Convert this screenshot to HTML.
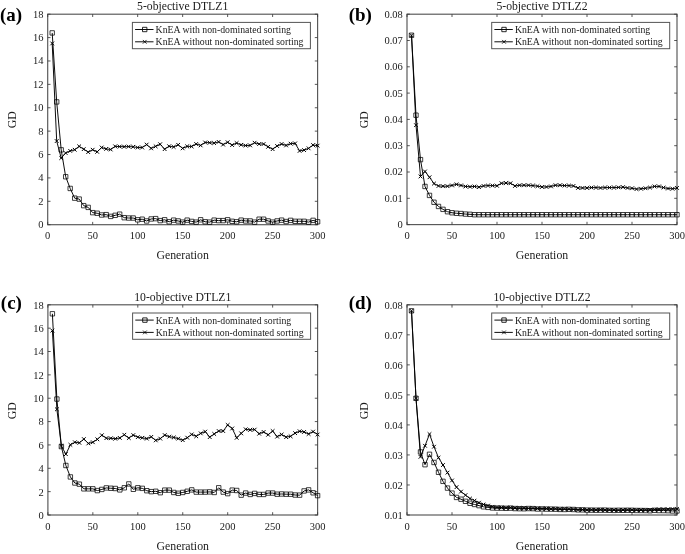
<!DOCTYPE html>
<html><head><meta charset="utf-8"><title>GD convergence</title>
<style>
html,body{margin:0;padding:0;background:#fff}
svg{display:block;font-family:"Liberation Serif","DejaVu Serif",serif;fill:#1a1a1a}
.tk{font-size:10.5px}
.ti{font-size:11.7px}
.lb{font-size:11.8px}
.lg{font-size:9.78px}
.pl{font-size:19px;font-weight:bold;fill:#000}
</style></head><body>
<svg width="685" height="554" viewBox="0 0 685 554">
<rect width="685" height="554" fill="#fff"/>
<rect x="47.7" y="14.2" width="269.90" height="210.50" fill="none" stroke="#555" stroke-width="1.15"/>
<text class="tk" x="47.70" y="238.80" text-anchor="middle">0</text>
<text class="tk" x="92.68" y="238.80" text-anchor="middle">50</text>
<text class="tk" x="137.67" y="238.80" text-anchor="middle">100</text>
<text class="tk" x="182.65" y="238.80" text-anchor="middle">150</text>
<text class="tk" x="227.63" y="238.80" text-anchor="middle">200</text>
<text class="tk" x="272.62" y="238.80" text-anchor="middle">250</text>
<text class="tk" x="317.60" y="238.80" text-anchor="middle">300</text>
<text class="tk" x="43.50" y="228.15" text-anchor="end">0</text>
<text class="tk" x="43.50" y="204.76" text-anchor="end">2</text>
<text class="tk" x="43.50" y="181.37" text-anchor="end">4</text>
<text class="tk" x="43.50" y="157.98" text-anchor="end">6</text>
<text class="tk" x="43.50" y="134.59" text-anchor="end">8</text>
<text class="tk" x="43.50" y="111.21" text-anchor="end">10</text>
<text class="tk" x="43.50" y="87.82" text-anchor="end">12</text>
<text class="tk" x="43.50" y="64.43" text-anchor="end">14</text>
<text class="tk" x="43.50" y="41.04" text-anchor="end">16</text>
<text class="tk" x="43.50" y="17.65" text-anchor="end">18</text>
<path d="M47.70 224.7v-2.8M47.70 14.2v2.8M92.68 224.7v-2.8M92.68 14.2v2.8M137.67 224.7v-2.8M137.67 14.2v2.8M182.65 224.7v-2.8M182.65 14.2v2.8M227.63 224.7v-2.8M227.63 14.2v2.8M272.62 224.7v-2.8M272.62 14.2v2.8M317.60 224.7v-2.8M317.60 14.2v2.8M47.7 224.70h2.8M317.6 224.70h-2.8M47.7 201.31h2.8M317.6 201.31h-2.8M47.7 177.92h2.8M317.6 177.92h-2.8M47.7 154.53h2.8M317.6 154.53h-2.8M47.7 131.14h2.8M317.6 131.14h-2.8M47.7 107.76h2.8M317.6 107.76h-2.8M47.7 84.37h2.8M317.6 84.37h-2.8M47.7 60.98h2.8M317.6 60.98h-2.8M47.7 37.59h2.8M317.6 37.59h-2.8M47.7 14.20h2.8M317.6 14.20h-2.8" stroke="#3a3a3a" stroke-width="0.85" fill="none"/>
<text class="ti" x="182.65" y="10.00" text-anchor="middle">5-objective DTLZ1</text>
<text class="lb" x="182.65" y="259.40" text-anchor="middle">Generation</text>
<text class="lb" transform="translate(15.90 119.85) rotate(-90)" text-anchor="middle">GD</text>
<text class="pl" x="0.00" y="21.00">(a)</text>
<polyline points="52.20,32.91 56.70,101.91 61.20,149.86 65.69,176.75 70.19,188.45 74.69,198.15 79.19,199.09 83.69,205.64 88.19,207.39 92.68,212.65 97.18,213.24 101.68,214.99 106.18,214.64 110.68,216.40 115.18,215.34 119.67,214.17 124.17,217.68 128.67,218.03 133.17,218.03 137.67,219.79 142.17,219.20 146.66,220.96 151.16,218.97 155.66,218.62 160.16,220.61 164.66,219.79 169.16,221.78 173.65,220.14 178.15,220.96 182.65,222.13 187.15,220.14 191.65,221.43 196.15,222.13 200.64,219.79 205.14,221.78 209.64,222.13 214.14,220.14 218.64,220.61 223.13,220.61 227.63,219.79 232.13,221.31 236.63,221.78 241.13,220.14 245.63,220.96 250.12,220.96 254.62,222.13 259.12,219.20 263.62,219.20 268.12,220.96 272.62,222.13 277.12,220.96 281.61,220.14 286.11,221.54 290.61,220.37 295.11,221.31 299.61,221.31 304.11,221.31 308.60,222.13 313.10,220.37 317.60,221.78" fill="none" stroke="#000" stroke-width="0.95" stroke-linejoin="round"/>
<path d="M50.00 30.71h4.4v4.4h-4.4zM54.50 99.71h4.4v4.4h-4.4zM59.00 147.66h4.4v4.4h-4.4zM63.49 174.55h4.4v4.4h-4.4zM67.99 186.25h4.4v4.4h-4.4zM72.49 195.95h4.4v4.4h-4.4zM76.99 196.89h4.4v4.4h-4.4zM81.49 203.44h4.4v4.4h-4.4zM85.98 205.19h4.4v4.4h-4.4zM90.48 210.45h4.4v4.4h-4.4zM94.98 211.04h4.4v4.4h-4.4zM99.48 212.79h4.4v4.4h-4.4zM103.98 212.44h4.4v4.4h-4.4zM108.48 214.20h4.4v4.4h-4.4zM112.98 213.14h4.4v4.4h-4.4zM117.47 211.97h4.4v4.4h-4.4zM121.97 215.48h4.4v4.4h-4.4zM126.47 215.83h4.4v4.4h-4.4zM130.97 215.83h4.4v4.4h-4.4zM135.47 217.59h4.4v4.4h-4.4zM139.97 217.00h4.4v4.4h-4.4zM144.46 218.76h4.4v4.4h-4.4zM148.96 216.77h4.4v4.4h-4.4zM153.46 216.42h4.4v4.4h-4.4zM157.96 218.41h4.4v4.4h-4.4zM162.46 217.59h4.4v4.4h-4.4zM166.96 219.58h4.4v4.4h-4.4zM171.45 217.94h4.4v4.4h-4.4zM175.95 218.76h4.4v4.4h-4.4zM180.45 219.93h4.4v4.4h-4.4zM184.95 217.94h4.4v4.4h-4.4zM189.45 219.23h4.4v4.4h-4.4zM193.95 219.93h4.4v4.4h-4.4zM198.44 217.59h4.4v4.4h-4.4zM202.94 219.58h4.4v4.4h-4.4zM207.44 219.93h4.4v4.4h-4.4zM211.94 217.94h4.4v4.4h-4.4zM216.44 218.41h4.4v4.4h-4.4zM220.94 218.41h4.4v4.4h-4.4zM225.43 217.59h4.4v4.4h-4.4zM229.93 219.11h4.4v4.4h-4.4zM234.43 219.58h4.4v4.4h-4.4zM238.93 217.94h4.4v4.4h-4.4zM243.43 218.76h4.4v4.4h-4.4zM247.93 218.76h4.4v4.4h-4.4zM252.42 219.93h4.4v4.4h-4.4zM256.92 217.00h4.4v4.4h-4.4zM261.42 217.00h4.4v4.4h-4.4zM265.92 218.76h4.4v4.4h-4.4zM270.42 219.93h4.4v4.4h-4.4zM274.92 218.76h4.4v4.4h-4.4zM279.41 217.94h4.4v4.4h-4.4zM283.91 219.34h4.4v4.4h-4.4zM288.41 218.17h4.4v4.4h-4.4zM292.91 219.11h4.4v4.4h-4.4zM297.41 219.11h4.4v4.4h-4.4zM301.91 219.11h4.4v4.4h-4.4zM306.40 219.93h4.4v4.4h-4.4zM310.90 218.17h4.4v4.4h-4.4zM315.40 219.58h4.4v4.4h-4.4z" fill="none" stroke="#000" stroke-width="0.75"/>
<polyline points="52.20,43.44 56.70,141.08 61.20,158.04 65.69,153.01 70.19,150.91 74.69,149.74 79.19,146.35 83.69,149.15 88.19,152.08 92.68,149.74 97.18,151.84 101.68,147.52 106.18,148.92 110.68,149.50 115.18,146.35 119.67,146.58 124.17,146.70 128.67,146.58 133.17,146.81 137.67,147.52 142.17,147.52 146.66,144.59 151.16,148.34 155.66,146.35 160.16,144.24 164.66,149.15 169.16,146.23 173.65,146.93 178.15,144.83 182.65,148.34 187.15,146.35 191.65,146.46 196.15,144.01 200.64,145.41 205.14,142.49 209.64,142.72 214.14,143.07 218.64,141.90 223.13,144.59 227.63,142.25 232.13,145.06 236.63,143.07 241.13,144.83 245.63,145.53 250.12,145.41 254.62,142.72 259.12,144.01 263.62,144.01 268.12,146.81 272.62,149.15 277.12,146.00 281.61,144.01 286.11,145.41 290.61,143.66 295.11,143.42 299.61,150.91 304.11,150.09 308.60,148.34 313.10,145.06 317.60,145.65" fill="none" stroke="#000" stroke-width="0.95" stroke-linejoin="round"/>
<path d="M50.35 41.59l3.7 3.7M50.35 45.29l3.7 -3.7M54.85 139.23l3.7 3.7M54.85 142.93l3.7 -3.7M59.35 156.19l3.7 3.7M59.35 159.89l3.7 -3.7M63.84 151.16l3.7 3.7M63.84 154.86l3.7 -3.7M68.34 149.06l3.7 3.7M68.34 152.76l3.7 -3.7M72.84 147.89l3.7 3.7M72.84 151.59l3.7 -3.7M77.34 144.50l3.7 3.7M77.34 148.20l3.7 -3.7M81.84 147.30l3.7 3.7M81.84 151.00l3.7 -3.7M86.34 150.23l3.7 3.7M86.34 153.93l3.7 -3.7M90.83 147.89l3.7 3.7M90.83 151.59l3.7 -3.7M95.33 149.99l3.7 3.7M95.33 153.69l3.7 -3.7M99.83 145.67l3.7 3.7M99.83 149.37l3.7 -3.7M104.33 147.07l3.7 3.7M104.33 150.77l3.7 -3.7M108.83 147.65l3.7 3.7M108.83 151.35l3.7 -3.7M113.33 144.50l3.7 3.7M113.33 148.20l3.7 -3.7M117.82 144.73l3.7 3.7M117.82 148.43l3.7 -3.7M122.32 144.85l3.7 3.7M122.32 148.55l3.7 -3.7M126.82 144.73l3.7 3.7M126.82 148.43l3.7 -3.7M131.32 144.97l3.7 3.7M131.32 148.66l3.7 -3.7M135.82 145.67l3.7 3.7M135.82 149.37l3.7 -3.7M140.32 145.67l3.7 3.7M140.32 149.37l3.7 -3.7M144.81 142.74l3.7 3.7M144.81 146.44l3.7 -3.7M149.31 146.49l3.7 3.7M149.31 150.19l3.7 -3.7M153.81 144.50l3.7 3.7M153.81 148.20l3.7 -3.7M158.31 142.39l3.7 3.7M158.31 146.09l3.7 -3.7M162.81 147.30l3.7 3.7M162.81 151.00l3.7 -3.7M167.31 144.38l3.7 3.7M167.31 148.08l3.7 -3.7M171.80 145.08l3.7 3.7M171.80 148.78l3.7 -3.7M176.30 142.98l3.7 3.7M176.30 146.68l3.7 -3.7M180.80 146.49l3.7 3.7M180.80 150.19l3.7 -3.7M185.30 144.50l3.7 3.7M185.30 148.20l3.7 -3.7M189.80 144.61l3.7 3.7M189.80 148.31l3.7 -3.7M194.30 142.16l3.7 3.7M194.30 145.86l3.7 -3.7M198.79 143.56l3.7 3.7M198.79 147.26l3.7 -3.7M203.29 140.64l3.7 3.7M203.29 144.34l3.7 -3.7M207.79 140.87l3.7 3.7M207.79 144.57l3.7 -3.7M212.29 141.22l3.7 3.7M212.29 144.92l3.7 -3.7M216.79 140.05l3.7 3.7M216.79 143.75l3.7 -3.7M221.28 142.74l3.7 3.7M221.28 146.44l3.7 -3.7M225.78 140.40l3.7 3.7M225.78 144.10l3.7 -3.7M230.28 143.21l3.7 3.7M230.28 146.91l3.7 -3.7M234.78 141.22l3.7 3.7M234.78 144.92l3.7 -3.7M239.28 142.98l3.7 3.7M239.28 146.68l3.7 -3.7M243.78 143.68l3.7 3.7M243.78 147.38l3.7 -3.7M248.28 143.56l3.7 3.7M248.28 147.26l3.7 -3.7M252.77 140.87l3.7 3.7M252.77 144.57l3.7 -3.7M257.27 142.16l3.7 3.7M257.27 145.86l3.7 -3.7M261.77 142.16l3.7 3.7M261.77 145.86l3.7 -3.7M266.27 144.97l3.7 3.7M266.27 148.66l3.7 -3.7M270.77 147.30l3.7 3.7M270.77 151.00l3.7 -3.7M275.26 144.15l3.7 3.7M275.26 147.85l3.7 -3.7M279.76 142.16l3.7 3.7M279.76 145.86l3.7 -3.7M284.26 143.56l3.7 3.7M284.26 147.26l3.7 -3.7M288.76 141.81l3.7 3.7M288.76 145.51l3.7 -3.7M293.26 141.57l3.7 3.7M293.26 145.27l3.7 -3.7M297.76 149.06l3.7 3.7M297.76 152.76l3.7 -3.7M302.25 148.24l3.7 3.7M302.25 151.94l3.7 -3.7M306.75 146.49l3.7 3.7M306.75 150.19l3.7 -3.7M311.25 143.21l3.7 3.7M311.25 146.91l3.7 -3.7M315.75 143.80l3.7 3.7M315.75 147.50l3.7 -3.7" fill="none" stroke="#000" stroke-width="1.0"/>
<rect x="132.40" y="22.40" width="178.00" height="26.30" fill="#fff" stroke="#555" stroke-width="1"/>
<path d="M135.10 29.50H153.50M135.10 41.80H153.50" stroke="#000" stroke-width="0.95"/>
<path d="M142.50 27.30h4.4v4.4h-4.4zM142.85 39.95l3.7 3.7M142.85 43.65l3.7 -3.7" fill="none" stroke="#000" stroke-width="0.85"/>
<text class="lg" x="155.60" y="32.95">KnEA with non-dominated sorting</text>
<text class="lg" x="155.60" y="45.20">KnEA without non-dominated sorting</text>
<rect x="407.0" y="14.2" width="270.00" height="210.40" fill="none" stroke="#555" stroke-width="1.15"/>
<text class="tk" x="407.00" y="238.70" text-anchor="middle">0</text>
<text class="tk" x="452.00" y="238.70" text-anchor="middle">50</text>
<text class="tk" x="497.00" y="238.70" text-anchor="middle">100</text>
<text class="tk" x="542.00" y="238.70" text-anchor="middle">150</text>
<text class="tk" x="587.00" y="238.70" text-anchor="middle">200</text>
<text class="tk" x="632.00" y="238.70" text-anchor="middle">250</text>
<text class="tk" x="677.00" y="238.70" text-anchor="middle">300</text>
<text class="tk" x="402.80" y="228.05" text-anchor="end">0</text>
<text class="tk" x="402.80" y="201.75" text-anchor="end">0.01</text>
<text class="tk" x="402.80" y="175.45" text-anchor="end">0.02</text>
<text class="tk" x="402.80" y="149.15" text-anchor="end">0.03</text>
<text class="tk" x="402.80" y="122.85" text-anchor="end">0.04</text>
<text class="tk" x="402.80" y="96.55" text-anchor="end">0.05</text>
<text class="tk" x="402.80" y="70.25" text-anchor="end">0.06</text>
<text class="tk" x="402.80" y="43.95" text-anchor="end">0.07</text>
<text class="tk" x="402.80" y="17.65" text-anchor="end">0.08</text>
<path d="M407.00 224.6v-2.8M407.00 14.2v2.8M452.00 224.6v-2.8M452.00 14.2v2.8M497.00 224.6v-2.8M497.00 14.2v2.8M542.00 224.6v-2.8M542.00 14.2v2.8M587.00 224.6v-2.8M587.00 14.2v2.8M632.00 224.6v-2.8M632.00 14.2v2.8M677.00 224.6v-2.8M677.00 14.2v2.8M407.0 224.60h2.8M677.0 224.60h-2.8M407.0 198.30h2.8M677.0 198.30h-2.8M407.0 172.00h2.8M677.0 172.00h-2.8M407.0 145.70h2.8M677.0 145.70h-2.8M407.0 119.40h2.8M677.0 119.40h-2.8M407.0 93.10h2.8M677.0 93.10h-2.8M407.0 66.80h2.8M677.0 66.80h-2.8M407.0 40.50h2.8M677.0 40.50h-2.8M407.0 14.20h2.8M677.0 14.20h-2.8" stroke="#3a3a3a" stroke-width="0.85" fill="none"/>
<text class="ti" x="542.00" y="10.00" text-anchor="middle">5-objective DTLZ2</text>
<text class="lb" x="542.00" y="259.30" text-anchor="middle">Generation</text>
<text class="lb" transform="translate(368.20 119.80) rotate(-90)" text-anchor="middle">GD</text>
<text class="pl" x="348.70" y="21.00">(b)</text>
<polyline points="411.50,35.24 416.00,115.19 420.50,159.64 425.00,186.46 429.50,195.41 434.00,202.25 438.50,206.45 443.00,209.35 447.50,211.71 452.00,212.76 456.50,213.29 461.00,213.55 465.50,214.08 470.00,214.34 474.50,214.71 479.00,214.71 483.50,214.71 488.00,214.71 492.50,214.71 497.00,214.71 501.50,214.71 506.00,214.71 510.50,214.71 515.00,214.71 519.50,214.71 524.00,214.71 528.50,214.71 533.00,214.71 537.50,214.71 542.00,214.71 546.50,214.71 551.00,214.71 555.50,214.71 560.00,214.71 564.50,214.71 569.00,214.71 573.50,214.71 578.00,214.71 582.50,214.71 587.00,214.71 591.50,214.71 596.00,214.71 600.50,214.71 605.00,214.71 609.50,214.71 614.00,214.71 618.50,214.71 623.00,214.71 627.50,214.71 632.00,214.71 636.50,214.71 641.00,214.71 645.50,214.71 650.00,214.71 654.50,214.71 659.00,214.71 663.50,214.71 668.00,214.71 672.50,214.71 677.00,214.71" fill="none" stroke="#000" stroke-width="0.95" stroke-linejoin="round"/>
<path d="M409.30 33.04h4.4v4.4h-4.4zM413.80 112.99h4.4v4.4h-4.4zM418.30 157.44h4.4v4.4h-4.4zM422.80 184.26h4.4v4.4h-4.4zM427.30 193.21h4.4v4.4h-4.4zM431.80 200.05h4.4v4.4h-4.4zM436.30 204.25h4.4v4.4h-4.4zM440.80 207.15h4.4v4.4h-4.4zM445.30 209.51h4.4v4.4h-4.4zM449.80 210.56h4.4v4.4h-4.4zM454.30 211.09h4.4v4.4h-4.4zM458.80 211.35h4.4v4.4h-4.4zM463.30 211.88h4.4v4.4h-4.4zM467.80 212.14h4.4v4.4h-4.4zM472.30 212.51h4.4v4.4h-4.4zM476.80 212.51h4.4v4.4h-4.4zM481.30 212.51h4.4v4.4h-4.4zM485.80 212.51h4.4v4.4h-4.4zM490.30 212.51h4.4v4.4h-4.4zM494.80 212.51h4.4v4.4h-4.4zM499.30 212.51h4.4v4.4h-4.4zM503.80 212.51h4.4v4.4h-4.4zM508.30 212.51h4.4v4.4h-4.4zM512.80 212.51h4.4v4.4h-4.4zM517.30 212.51h4.4v4.4h-4.4zM521.80 212.51h4.4v4.4h-4.4zM526.30 212.51h4.4v4.4h-4.4zM530.80 212.51h4.4v4.4h-4.4zM535.30 212.51h4.4v4.4h-4.4zM539.80 212.51h4.4v4.4h-4.4zM544.30 212.51h4.4v4.4h-4.4zM548.80 212.51h4.4v4.4h-4.4zM553.30 212.51h4.4v4.4h-4.4zM557.80 212.51h4.4v4.4h-4.4zM562.30 212.51h4.4v4.4h-4.4zM566.80 212.51h4.4v4.4h-4.4zM571.30 212.51h4.4v4.4h-4.4zM575.80 212.51h4.4v4.4h-4.4zM580.30 212.51h4.4v4.4h-4.4zM584.80 212.51h4.4v4.4h-4.4zM589.30 212.51h4.4v4.4h-4.4zM593.80 212.51h4.4v4.4h-4.4zM598.30 212.51h4.4v4.4h-4.4zM602.80 212.51h4.4v4.4h-4.4zM607.30 212.51h4.4v4.4h-4.4zM611.80 212.51h4.4v4.4h-4.4zM616.30 212.51h4.4v4.4h-4.4zM620.80 212.51h4.4v4.4h-4.4zM625.30 212.51h4.4v4.4h-4.4zM629.80 212.51h4.4v4.4h-4.4zM634.30 212.51h4.4v4.4h-4.4zM638.80 212.51h4.4v4.4h-4.4zM643.30 212.51h4.4v4.4h-4.4zM647.80 212.51h4.4v4.4h-4.4zM652.30 212.51h4.4v4.4h-4.4zM656.80 212.51h4.4v4.4h-4.4zM661.30 212.51h4.4v4.4h-4.4zM665.80 212.51h4.4v4.4h-4.4zM670.30 212.51h4.4v4.4h-4.4zM674.80 212.51h4.4v4.4h-4.4z" fill="none" stroke="#000" stroke-width="0.75"/>
<polyline points="411.50,35.24 416.00,125.19 420.50,176.47 425.00,171.47 429.50,177.26 434.00,183.57 438.50,185.94 443.00,186.20 447.50,186.20 452.00,185.41 456.50,184.36 461.00,185.41 465.50,186.46 470.00,186.73 474.50,186.46 479.00,187.12 483.50,185.94 488.00,185.60 492.50,185.60 497.00,185.81 501.50,183.26 506.00,183.02 510.50,183.26 515.00,185.94 519.50,185.23 524.00,185.23 528.50,185.23 533.00,185.60 537.50,186.18 542.00,186.94 546.50,186.94 551.00,186.41 555.50,185.23 560.00,185.23 564.50,185.60 569.00,185.60 573.50,185.94 578.00,187.94 582.50,187.94 587.00,187.94 591.50,187.57 596.00,187.57 600.50,187.94 605.00,187.57 609.50,187.57 614.00,187.57 618.50,187.36 623.00,187.12 627.50,187.94 632.00,188.28 636.50,189.09 641.00,188.75 645.50,188.28 650.00,187.57 654.50,186.41 659.00,186.41 663.50,187.57 668.00,188.52 672.50,188.75 677.00,187.94" fill="none" stroke="#000" stroke-width="0.95" stroke-linejoin="round"/>
<path d="M409.65 33.39l3.7 3.7M409.65 37.09l3.7 -3.7M414.15 123.34l3.7 3.7M414.15 127.04l3.7 -3.7M418.65 174.62l3.7 3.7M418.65 178.32l3.7 -3.7M423.15 169.62l3.7 3.7M423.15 173.32l3.7 -3.7M427.65 175.41l3.7 3.7M427.65 179.11l3.7 -3.7M432.15 181.72l3.7 3.7M432.15 185.42l3.7 -3.7M436.65 184.09l3.7 3.7M436.65 187.79l3.7 -3.7M441.15 184.35l3.7 3.7M441.15 188.05l3.7 -3.7M445.65 184.35l3.7 3.7M445.65 188.05l3.7 -3.7M450.15 183.56l3.7 3.7M450.15 187.26l3.7 -3.7M454.65 182.51l3.7 3.7M454.65 186.21l3.7 -3.7M459.15 183.56l3.7 3.7M459.15 187.26l3.7 -3.7M463.65 184.61l3.7 3.7M463.65 188.31l3.7 -3.7M468.15 184.88l3.7 3.7M468.15 188.58l3.7 -3.7M472.65 184.61l3.7 3.7M472.65 188.31l3.7 -3.7M477.15 185.27l3.7 3.7M477.15 188.97l3.7 -3.7M481.65 184.09l3.7 3.7M481.65 187.79l3.7 -3.7M486.15 183.75l3.7 3.7M486.15 187.45l3.7 -3.7M490.65 183.75l3.7 3.7M490.65 187.45l3.7 -3.7M495.15 183.96l3.7 3.7M495.15 187.66l3.7 -3.7M499.65 181.41l3.7 3.7M499.65 185.11l3.7 -3.7M504.15 181.17l3.7 3.7M504.15 184.87l3.7 -3.7M508.65 181.41l3.7 3.7M508.65 185.11l3.7 -3.7M513.15 184.09l3.7 3.7M513.15 187.79l3.7 -3.7M517.65 183.38l3.7 3.7M517.65 187.08l3.7 -3.7M522.15 183.38l3.7 3.7M522.15 187.08l3.7 -3.7M526.65 183.38l3.7 3.7M526.65 187.08l3.7 -3.7M531.15 183.75l3.7 3.7M531.15 187.45l3.7 -3.7M535.65 184.33l3.7 3.7M535.65 188.03l3.7 -3.7M540.15 185.09l3.7 3.7M540.15 188.79l3.7 -3.7M544.65 185.09l3.7 3.7M544.65 188.79l3.7 -3.7M549.15 184.56l3.7 3.7M549.15 188.26l3.7 -3.7M553.65 183.38l3.7 3.7M553.65 187.08l3.7 -3.7M558.15 183.38l3.7 3.7M558.15 187.08l3.7 -3.7M562.65 183.75l3.7 3.7M562.65 187.45l3.7 -3.7M567.15 183.75l3.7 3.7M567.15 187.45l3.7 -3.7M571.65 184.09l3.7 3.7M571.65 187.79l3.7 -3.7M576.15 186.09l3.7 3.7M576.15 189.79l3.7 -3.7M580.65 186.09l3.7 3.7M580.65 189.79l3.7 -3.7M585.15 186.09l3.7 3.7M585.15 189.79l3.7 -3.7M589.65 185.72l3.7 3.7M589.65 189.42l3.7 -3.7M594.15 185.72l3.7 3.7M594.15 189.42l3.7 -3.7M598.65 186.09l3.7 3.7M598.65 189.79l3.7 -3.7M603.15 185.72l3.7 3.7M603.15 189.42l3.7 -3.7M607.65 185.72l3.7 3.7M607.65 189.42l3.7 -3.7M612.15 185.72l3.7 3.7M612.15 189.42l3.7 -3.7M616.65 185.51l3.7 3.7M616.65 189.21l3.7 -3.7M621.15 185.27l3.7 3.7M621.15 188.97l3.7 -3.7M625.65 186.09l3.7 3.7M625.65 189.79l3.7 -3.7M630.15 186.43l3.7 3.7M630.15 190.13l3.7 -3.7M634.65 187.25l3.7 3.7M634.65 190.94l3.7 -3.7M639.15 186.90l3.7 3.7M639.15 190.60l3.7 -3.7M643.65 186.43l3.7 3.7M643.65 190.13l3.7 -3.7M648.15 185.72l3.7 3.7M648.15 189.42l3.7 -3.7M652.65 184.56l3.7 3.7M652.65 188.26l3.7 -3.7M657.15 184.56l3.7 3.7M657.15 188.26l3.7 -3.7M661.65 185.72l3.7 3.7M661.65 189.42l3.7 -3.7M666.15 186.67l3.7 3.7M666.15 190.37l3.7 -3.7M670.65 186.90l3.7 3.7M670.65 190.60l3.7 -3.7M675.15 186.09l3.7 3.7M675.15 189.79l3.7 -3.7" fill="none" stroke="#000" stroke-width="1.0"/>
<rect x="491.70" y="22.40" width="178.00" height="26.30" fill="#fff" stroke="#555" stroke-width="1"/>
<path d="M494.40 29.50H512.80M494.40 41.80H512.80" stroke="#000" stroke-width="0.95"/>
<path d="M501.80 27.30h4.4v4.4h-4.4zM502.15 39.95l3.7 3.7M502.15 43.65l3.7 -3.7" fill="none" stroke="#000" stroke-width="0.85"/>
<text class="lg" x="514.90" y="32.95">KnEA with non-dominated sorting</text>
<text class="lg" x="514.90" y="45.20">KnEA without non-dominated sorting</text>
<rect x="47.9" y="304.8" width="269.70" height="210.20" fill="none" stroke="#555" stroke-width="1.15"/>
<text class="tk" x="47.90" y="529.55" text-anchor="middle">0</text>
<text class="tk" x="92.85" y="529.55" text-anchor="middle">50</text>
<text class="tk" x="137.80" y="529.55" text-anchor="middle">100</text>
<text class="tk" x="182.75" y="529.55" text-anchor="middle">150</text>
<text class="tk" x="227.70" y="529.55" text-anchor="middle">200</text>
<text class="tk" x="272.65" y="529.55" text-anchor="middle">250</text>
<text class="tk" x="317.60" y="529.55" text-anchor="middle">300</text>
<text class="tk" x="43.70" y="518.90" text-anchor="end">0</text>
<text class="tk" x="43.70" y="495.54" text-anchor="end">2</text>
<text class="tk" x="43.70" y="472.19" text-anchor="end">4</text>
<text class="tk" x="43.70" y="448.83" text-anchor="end">6</text>
<text class="tk" x="43.70" y="425.48" text-anchor="end">8</text>
<text class="tk" x="43.70" y="402.12" text-anchor="end">10</text>
<text class="tk" x="43.70" y="378.77" text-anchor="end">12</text>
<text class="tk" x="43.70" y="355.41" text-anchor="end">14</text>
<text class="tk" x="43.70" y="332.06" text-anchor="end">16</text>
<text class="tk" x="43.70" y="308.70" text-anchor="end">18</text>
<path d="M47.90 515.0v-2.8M47.90 304.8v2.8M92.85 515.0v-2.8M92.85 304.8v2.8M137.80 515.0v-2.8M137.80 304.8v2.8M182.75 515.0v-2.8M182.75 304.8v2.8M227.70 515.0v-2.8M227.70 304.8v2.8M272.65 515.0v-2.8M272.65 304.8v2.8M317.60 515.0v-2.8M317.60 304.8v2.8M47.9 515.00h2.8M317.6 515.00h-2.8M47.9 491.64h2.8M317.6 491.64h-2.8M47.9 468.29h2.8M317.6 468.29h-2.8M47.9 444.93h2.8M317.6 444.93h-2.8M47.9 421.58h2.8M317.6 421.58h-2.8M47.9 398.22h2.8M317.6 398.22h-2.8M47.9 374.87h2.8M317.6 374.87h-2.8M47.9 351.51h2.8M317.6 351.51h-2.8M47.9 328.16h2.8M317.6 328.16h-2.8M47.9 304.80h2.8M317.6 304.80h-2.8" stroke="#3a3a3a" stroke-width="0.85" fill="none"/>
<text class="ti" x="182.75" y="300.60" text-anchor="middle">10-objective DTLZ1</text>
<text class="lb" x="182.75" y="550.15" text-anchor="middle">Generation</text>
<text class="lb" transform="translate(15.90 410.75) rotate(-90)" text-anchor="middle">GD</text>
<text class="pl" x="0.85" y="308.80">(c)</text>
<polyline points="52.39,313.79 56.89,399.04 61.38,446.57 65.88,465.49 70.38,476.93 74.87,483.00 79.37,484.17 83.86,488.84 88.36,488.84 92.85,488.84 97.34,490.59 101.84,489.43 106.34,487.91 110.83,488.26 115.33,488.49 119.82,489.89 124.31,487.79 128.81,483.94 133.31,489.31 137.80,487.79 142.30,488.37 146.79,490.71 151.29,491.64 155.78,491.29 160.28,492.70 164.77,490.13 169.27,490.13 173.76,492.46 178.26,493.28 182.75,492.46 187.25,491.29 191.74,489.89 196.24,492.11 200.73,492.11 205.23,492.11 209.72,491.88 214.22,492.46 218.71,487.79 223.21,492.11 227.70,493.63 232.20,490.13 236.69,490.48 241.19,495.15 245.68,493.05 250.18,494.45 254.67,493.40 259.17,494.45 263.66,494.45 268.16,493.05 272.65,493.05 277.15,494.21 281.64,493.98 286.14,494.21 290.63,494.21 295.12,495.03 299.62,495.15 304.12,490.94 308.61,489.89 313.11,492.81 317.60,495.61" fill="none" stroke="#000" stroke-width="0.95" stroke-linejoin="round"/>
<path d="M50.19 311.59h4.4v4.4h-4.4zM54.69 396.84h4.4v4.4h-4.4zM59.18 444.37h4.4v4.4h-4.4zM63.68 463.29h4.4v4.4h-4.4zM68.17 474.73h4.4v4.4h-4.4zM72.67 480.80h4.4v4.4h-4.4zM77.17 481.97h4.4v4.4h-4.4zM81.66 486.64h4.4v4.4h-4.4zM86.16 486.64h4.4v4.4h-4.4zM90.65 486.64h4.4v4.4h-4.4zM95.14 488.39h4.4v4.4h-4.4zM99.64 487.23h4.4v4.4h-4.4zM104.14 485.71h4.4v4.4h-4.4zM108.63 486.06h4.4v4.4h-4.4zM113.13 486.29h4.4v4.4h-4.4zM117.62 487.69h4.4v4.4h-4.4zM122.11 485.59h4.4v4.4h-4.4zM126.61 481.74h4.4v4.4h-4.4zM131.11 487.11h4.4v4.4h-4.4zM135.60 485.59h4.4v4.4h-4.4zM140.10 486.17h4.4v4.4h-4.4zM144.59 488.51h4.4v4.4h-4.4zM149.09 489.44h4.4v4.4h-4.4zM153.58 489.09h4.4v4.4h-4.4zM158.08 490.50h4.4v4.4h-4.4zM162.57 487.93h4.4v4.4h-4.4zM167.07 487.93h4.4v4.4h-4.4zM171.56 490.26h4.4v4.4h-4.4zM176.06 491.08h4.4v4.4h-4.4zM180.55 490.26h4.4v4.4h-4.4zM185.05 489.09h4.4v4.4h-4.4zM189.54 487.69h4.4v4.4h-4.4zM194.04 489.91h4.4v4.4h-4.4zM198.53 489.91h4.4v4.4h-4.4zM203.03 489.91h4.4v4.4h-4.4zM207.52 489.68h4.4v4.4h-4.4zM212.02 490.26h4.4v4.4h-4.4zM216.51 485.59h4.4v4.4h-4.4zM221.01 489.91h4.4v4.4h-4.4zM225.50 491.43h4.4v4.4h-4.4zM230.00 487.93h4.4v4.4h-4.4zM234.49 488.28h4.4v4.4h-4.4zM238.99 492.95h4.4v4.4h-4.4zM243.48 490.85h4.4v4.4h-4.4zM247.98 492.25h4.4v4.4h-4.4zM252.47 491.20h4.4v4.4h-4.4zM256.97 492.25h4.4v4.4h-4.4zM261.46 492.25h4.4v4.4h-4.4zM265.96 490.85h4.4v4.4h-4.4zM270.45 490.85h4.4v4.4h-4.4zM274.95 492.01h4.4v4.4h-4.4zM279.44 491.78h4.4v4.4h-4.4zM283.94 492.01h4.4v4.4h-4.4zM288.43 492.01h4.4v4.4h-4.4zM292.93 492.83h4.4v4.4h-4.4zM297.42 492.95h4.4v4.4h-4.4zM301.92 488.74h4.4v4.4h-4.4zM306.41 487.69h4.4v4.4h-4.4zM310.91 490.61h4.4v4.4h-4.4zM315.40 493.41h4.4v4.4h-4.4z" fill="none" stroke="#000" stroke-width="0.75"/>
<polyline points="52.39,330.61 56.89,409.32 61.38,446.10 65.88,454.16 70.38,444.82 74.87,442.25 79.37,442.83 83.86,439.09 88.36,443.42 92.85,442.25 97.34,439.33 101.84,435.24 106.34,438.16 110.83,438.28 115.33,438.74 119.82,437.93 124.31,434.77 128.81,438.04 133.31,435.12 137.80,437.11 142.30,437.81 146.79,438.63 151.29,436.88 155.78,440.38 160.28,438.63 164.77,435.12 169.27,436.64 173.76,437.46 178.26,438.63 182.75,440.15 187.25,437.69 191.74,434.42 196.24,436.29 200.73,433.37 205.23,431.62 209.72,437.11 214.22,433.96 218.71,431.04 223.21,431.04 227.70,424.96 232.20,428.47 236.69,437.81 241.19,433.37 245.68,429.29 250.18,429.87 254.67,429.64 259.17,433.72 263.66,431.97 268.16,434.77 272.65,431.04 277.15,436.64 281.64,434.54 286.14,437.11 290.63,436.29 295.12,433.14 299.62,431.27 304.12,431.97 308.61,433.96 313.11,431.62 317.60,434.54" fill="none" stroke="#000" stroke-width="0.95" stroke-linejoin="round"/>
<path d="M50.54 328.76l3.7 3.7M50.54 332.46l3.7 -3.7M55.04 407.47l3.7 3.7M55.04 411.17l3.7 -3.7M59.53 444.25l3.7 3.7M59.53 447.95l3.7 -3.7M64.03 452.31l3.7 3.7M64.03 456.01l3.7 -3.7M68.53 442.97l3.7 3.7M68.53 446.67l3.7 -3.7M73.02 440.40l3.7 3.7M73.02 444.10l3.7 -3.7M77.52 440.98l3.7 3.7M77.52 444.68l3.7 -3.7M82.01 437.24l3.7 3.7M82.01 440.94l3.7 -3.7M86.51 441.57l3.7 3.7M86.51 445.27l3.7 -3.7M91.00 440.40l3.7 3.7M91.00 444.10l3.7 -3.7M95.50 437.48l3.7 3.7M95.50 441.18l3.7 -3.7M99.99 433.39l3.7 3.7M99.99 437.09l3.7 -3.7M104.49 436.31l3.7 3.7M104.49 440.01l3.7 -3.7M108.98 436.43l3.7 3.7M108.98 440.13l3.7 -3.7M113.48 436.89l3.7 3.7M113.48 440.59l3.7 -3.7M117.97 436.08l3.7 3.7M117.97 439.78l3.7 -3.7M122.47 432.92l3.7 3.7M122.47 436.62l3.7 -3.7M126.96 436.19l3.7 3.7M126.96 439.89l3.7 -3.7M131.46 433.27l3.7 3.7M131.46 436.97l3.7 -3.7M135.95 435.26l3.7 3.7M135.95 438.96l3.7 -3.7M140.45 435.96l3.7 3.7M140.45 439.66l3.7 -3.7M144.94 436.78l3.7 3.7M144.94 440.48l3.7 -3.7M149.44 435.03l3.7 3.7M149.44 438.73l3.7 -3.7M153.93 438.53l3.7 3.7M153.93 442.23l3.7 -3.7M158.43 436.78l3.7 3.7M158.43 440.48l3.7 -3.7M162.92 433.27l3.7 3.7M162.92 436.97l3.7 -3.7M167.42 434.79l3.7 3.7M167.42 438.49l3.7 -3.7M171.91 435.61l3.7 3.7M171.91 439.31l3.7 -3.7M176.41 436.78l3.7 3.7M176.41 440.48l3.7 -3.7M180.90 438.30l3.7 3.7M180.90 442.00l3.7 -3.7M185.40 435.84l3.7 3.7M185.40 439.54l3.7 -3.7M189.89 432.57l3.7 3.7M189.89 436.27l3.7 -3.7M194.39 434.44l3.7 3.7M194.39 438.14l3.7 -3.7M198.88 431.52l3.7 3.7M198.88 435.22l3.7 -3.7M203.38 429.77l3.7 3.7M203.38 433.47l3.7 -3.7M207.87 435.26l3.7 3.7M207.87 438.96l3.7 -3.7M212.37 432.11l3.7 3.7M212.37 435.81l3.7 -3.7M216.86 429.19l3.7 3.7M216.86 432.89l3.7 -3.7M221.36 429.19l3.7 3.7M221.36 432.89l3.7 -3.7M225.85 423.11l3.7 3.7M225.85 426.81l3.7 -3.7M230.35 426.62l3.7 3.7M230.35 430.32l3.7 -3.7M234.84 435.96l3.7 3.7M234.84 439.66l3.7 -3.7M239.34 431.52l3.7 3.7M239.34 435.22l3.7 -3.7M243.83 427.44l3.7 3.7M243.83 431.14l3.7 -3.7M248.33 428.02l3.7 3.7M248.33 431.72l3.7 -3.7M252.82 427.79l3.7 3.7M252.82 431.49l3.7 -3.7M257.31 431.87l3.7 3.7M257.31 435.57l3.7 -3.7M261.81 430.12l3.7 3.7M261.81 433.82l3.7 -3.7M266.31 432.92l3.7 3.7M266.31 436.62l3.7 -3.7M270.80 429.19l3.7 3.7M270.80 432.89l3.7 -3.7M275.30 434.79l3.7 3.7M275.30 438.49l3.7 -3.7M279.79 432.69l3.7 3.7M279.79 436.39l3.7 -3.7M284.29 435.26l3.7 3.7M284.29 438.96l3.7 -3.7M288.78 434.44l3.7 3.7M288.78 438.14l3.7 -3.7M293.27 431.29l3.7 3.7M293.27 434.99l3.7 -3.7M297.77 429.42l3.7 3.7M297.77 433.12l3.7 -3.7M302.26 430.12l3.7 3.7M302.26 433.82l3.7 -3.7M306.76 432.11l3.7 3.7M306.76 435.81l3.7 -3.7M311.25 429.77l3.7 3.7M311.25 433.47l3.7 -3.7M315.75 432.69l3.7 3.7M315.75 436.39l3.7 -3.7" fill="none" stroke="#000" stroke-width="1.0"/>
<rect x="132.60" y="313.00" width="178.00" height="26.30" fill="#fff" stroke="#555" stroke-width="1"/>
<path d="M135.30 320.10H153.70M135.30 332.40H153.70" stroke="#000" stroke-width="0.95"/>
<path d="M142.70 317.90h4.4v4.4h-4.4zM143.05 330.55l3.7 3.7M143.05 334.25l3.7 -3.7" fill="none" stroke="#000" stroke-width="0.85"/>
<text class="lg" x="155.80" y="323.55">KnEA with non-dominated sorting</text>
<text class="lg" x="155.80" y="335.80">KnEA without non-dominated sorting</text>
<rect x="407.0" y="304.8" width="270.00" height="210.20" fill="none" stroke="#555" stroke-width="1.15"/>
<text class="tk" x="407.00" y="529.55" text-anchor="middle">0</text>
<text class="tk" x="452.00" y="529.55" text-anchor="middle">50</text>
<text class="tk" x="497.00" y="529.55" text-anchor="middle">100</text>
<text class="tk" x="542.00" y="529.55" text-anchor="middle">150</text>
<text class="tk" x="587.00" y="529.55" text-anchor="middle">200</text>
<text class="tk" x="632.00" y="529.55" text-anchor="middle">250</text>
<text class="tk" x="677.00" y="529.55" text-anchor="middle">300</text>
<text class="tk" x="402.80" y="518.90" text-anchor="end">0.01</text>
<text class="tk" x="402.80" y="488.87" text-anchor="end">0.02</text>
<text class="tk" x="402.80" y="458.84" text-anchor="end">0.03</text>
<text class="tk" x="402.80" y="428.81" text-anchor="end">0.04</text>
<text class="tk" x="402.80" y="398.79" text-anchor="end">0.05</text>
<text class="tk" x="402.80" y="368.76" text-anchor="end">0.06</text>
<text class="tk" x="402.80" y="338.73" text-anchor="end">0.07</text>
<text class="tk" x="402.80" y="308.70" text-anchor="end">0.08</text>
<path d="M407.00 515.0v-2.8M407.00 304.8v2.8M452.00 515.0v-2.8M452.00 304.8v2.8M497.00 515.0v-2.8M497.00 304.8v2.8M542.00 515.0v-2.8M542.00 304.8v2.8M587.00 515.0v-2.8M587.00 304.8v2.8M632.00 515.0v-2.8M632.00 304.8v2.8M677.00 515.0v-2.8M677.00 304.8v2.8M407.0 515.00h2.8M677.0 515.00h-2.8M407.0 484.97h2.8M677.0 484.97h-2.8M407.0 454.94h2.8M677.0 454.94h-2.8M407.0 424.91h2.8M677.0 424.91h-2.8M407.0 394.89h2.8M677.0 394.89h-2.8M407.0 364.86h2.8M677.0 364.86h-2.8M407.0 334.83h2.8M677.0 334.83h-2.8M407.0 304.80h2.8M677.0 304.80h-2.8" stroke="#3a3a3a" stroke-width="0.85" fill="none"/>
<text class="ti" x="542.00" y="300.60" text-anchor="middle">10-objective DTLZ2</text>
<text class="lb" x="542.00" y="550.15" text-anchor="middle">Generation</text>
<text class="lb" transform="translate(368.20 410.75) rotate(-90)" text-anchor="middle">GD</text>
<text class="pl" x="348.70" y="308.80">(d)</text>
<polyline points="411.50,310.81 416.00,398.31 420.50,451.94 425.00,464.70 429.50,454.31 434.00,462.48 438.50,472.27 443.00,481.34 447.50,488.09 452.00,493.11 456.50,497.43 461.00,499.20 465.50,501.31 470.00,503.29 474.50,504.46 479.00,505.63 483.50,506.80 488.00,507.37 492.50,507.97 497.00,508.09 501.50,508.13 506.00,508.33 510.50,508.12 515.00,508.56 519.50,508.68 524.00,508.76 528.50,508.54 533.00,508.61 537.50,509.00 542.00,508.96 546.50,509.07 551.00,509.11 555.50,509.18 560.00,509.42 564.50,509.50 569.00,509.34 573.50,509.49 578.00,509.86 582.50,509.85 587.00,510.11 591.50,510.12 596.00,510.22 600.50,510.16 605.00,510.13 609.50,510.31 614.00,510.38 618.50,510.27 623.00,510.31 627.50,510.24 632.00,510.28 636.50,510.46 641.00,510.51 645.50,510.56 650.00,510.74 654.50,510.34 659.00,510.52 663.50,510.55 668.00,510.66 672.50,510.96 677.00,510.96" fill="none" stroke="#000" stroke-width="0.95" stroke-linejoin="round"/>
<path d="M409.30 308.61h4.4v4.4h-4.4zM413.80 396.11h4.4v4.4h-4.4zM418.30 449.74h4.4v4.4h-4.4zM422.80 462.50h4.4v4.4h-4.4zM427.30 452.11h4.4v4.4h-4.4zM431.80 460.28h4.4v4.4h-4.4zM436.30 470.07h4.4v4.4h-4.4zM440.80 479.14h4.4v4.4h-4.4zM445.30 485.89h4.4v4.4h-4.4zM449.80 490.91h4.4v4.4h-4.4zM454.30 495.23h4.4v4.4h-4.4zM458.80 497.00h4.4v4.4h-4.4zM463.30 499.11h4.4v4.4h-4.4zM467.80 501.09h4.4v4.4h-4.4zM472.30 502.26h4.4v4.4h-4.4zM476.80 503.43h4.4v4.4h-4.4zM481.30 504.60h4.4v4.4h-4.4zM485.80 505.17h4.4v4.4h-4.4zM490.30 505.77h4.4v4.4h-4.4zM494.80 505.89h4.4v4.4h-4.4zM499.30 505.93h4.4v4.4h-4.4zM503.80 506.13h4.4v4.4h-4.4zM508.30 505.92h4.4v4.4h-4.4zM512.80 506.36h4.4v4.4h-4.4zM517.30 506.48h4.4v4.4h-4.4zM521.80 506.56h4.4v4.4h-4.4zM526.30 506.34h4.4v4.4h-4.4zM530.80 506.41h4.4v4.4h-4.4zM535.30 506.80h4.4v4.4h-4.4zM539.80 506.76h4.4v4.4h-4.4zM544.30 506.87h4.4v4.4h-4.4zM548.80 506.91h4.4v4.4h-4.4zM553.30 506.98h4.4v4.4h-4.4zM557.80 507.22h4.4v4.4h-4.4zM562.30 507.30h4.4v4.4h-4.4zM566.80 507.14h4.4v4.4h-4.4zM571.30 507.29h4.4v4.4h-4.4zM575.80 507.66h4.4v4.4h-4.4zM580.30 507.65h4.4v4.4h-4.4zM584.80 507.91h4.4v4.4h-4.4zM589.30 507.92h4.4v4.4h-4.4zM593.80 508.02h4.4v4.4h-4.4zM598.30 507.96h4.4v4.4h-4.4zM602.80 507.93h4.4v4.4h-4.4zM607.30 508.11h4.4v4.4h-4.4zM611.80 508.18h4.4v4.4h-4.4zM616.30 508.07h4.4v4.4h-4.4zM620.80 508.11h4.4v4.4h-4.4zM625.30 508.04h4.4v4.4h-4.4zM629.80 508.08h4.4v4.4h-4.4zM634.30 508.26h4.4v4.4h-4.4zM638.80 508.31h4.4v4.4h-4.4zM643.30 508.36h4.4v4.4h-4.4zM647.80 508.54h4.4v4.4h-4.4zM652.30 508.14h4.4v4.4h-4.4zM656.80 508.32h4.4v4.4h-4.4zM661.30 508.35h4.4v4.4h-4.4zM665.80 508.46h4.4v4.4h-4.4zM670.30 508.76h4.4v4.4h-4.4zM674.80 508.76h4.4v4.4h-4.4z" fill="none" stroke="#000" stroke-width="0.75"/>
<polyline points="411.50,310.81 416.00,398.31 420.50,456.86 425.00,445.78 429.50,434.10 434.00,446.72 438.50,457.68 443.00,465.03 447.50,472.63 452.00,480.50 456.50,487.16 461.00,491.61 465.50,495.12 470.00,498.60 474.50,500.62 479.00,502.69 483.50,504.46 488.00,505.63 492.50,506.80 497.00,507.37 501.50,507.54 506.00,507.74 510.50,507.65 515.00,508.08 519.50,508.07 524.00,508.16 528.50,508.35 533.00,508.30 537.50,508.42 542.00,508.58 546.50,508.57 551.00,508.95 555.50,508.77 560.00,509.16 564.50,508.93 569.00,509.18 573.50,509.22 578.00,509.70 582.50,509.60 587.00,509.88 591.50,509.78 596.00,509.90 600.50,509.65 605.00,509.95 609.50,509.89 614.00,510.04 618.50,510.12 623.00,510.01 627.50,509.85 632.00,509.90 636.50,509.94 641.00,510.01 645.50,509.90 650.00,509.82 654.50,509.65 659.00,509.27 663.50,509.18 668.00,509.19 672.50,508.95 677.00,508.83" fill="none" stroke="#000" stroke-width="0.95" stroke-linejoin="round"/>
<path d="M409.65 308.96l3.7 3.7M409.65 312.66l3.7 -3.7M414.15 396.46l3.7 3.7M414.15 400.16l3.7 -3.7M418.65 455.01l3.7 3.7M418.65 458.71l3.7 -3.7M423.15 443.93l3.7 3.7M423.15 447.63l3.7 -3.7M427.65 432.25l3.7 3.7M427.65 435.95l3.7 -3.7M432.15 444.87l3.7 3.7M432.15 448.57l3.7 -3.7M436.65 455.83l3.7 3.7M436.65 459.53l3.7 -3.7M441.15 463.18l3.7 3.7M441.15 466.88l3.7 -3.7M445.65 470.78l3.7 3.7M445.65 474.48l3.7 -3.7M450.15 478.65l3.7 3.7M450.15 482.35l3.7 -3.7M454.65 485.31l3.7 3.7M454.65 489.01l3.7 -3.7M459.15 489.76l3.7 3.7M459.15 493.46l3.7 -3.7M463.65 493.27l3.7 3.7M463.65 496.97l3.7 -3.7M468.15 496.75l3.7 3.7M468.15 500.45l3.7 -3.7M472.65 498.77l3.7 3.7M472.65 502.47l3.7 -3.7M477.15 500.84l3.7 3.7M477.15 504.54l3.7 -3.7M481.65 502.61l3.7 3.7M481.65 506.31l3.7 -3.7M486.15 503.78l3.7 3.7M486.15 507.48l3.7 -3.7M490.65 504.95l3.7 3.7M490.65 508.65l3.7 -3.7M495.15 505.52l3.7 3.7M495.15 509.22l3.7 -3.7M499.65 505.69l3.7 3.7M499.65 509.39l3.7 -3.7M504.15 505.89l3.7 3.7M504.15 509.59l3.7 -3.7M508.65 505.80l3.7 3.7M508.65 509.50l3.7 -3.7M513.15 506.23l3.7 3.7M513.15 509.93l3.7 -3.7M517.65 506.22l3.7 3.7M517.65 509.92l3.7 -3.7M522.15 506.31l3.7 3.7M522.15 510.01l3.7 -3.7M526.65 506.50l3.7 3.7M526.65 510.20l3.7 -3.7M531.15 506.45l3.7 3.7M531.15 510.15l3.7 -3.7M535.65 506.57l3.7 3.7M535.65 510.27l3.7 -3.7M540.15 506.73l3.7 3.7M540.15 510.43l3.7 -3.7M544.65 506.72l3.7 3.7M544.65 510.42l3.7 -3.7M549.15 507.10l3.7 3.7M549.15 510.80l3.7 -3.7M553.65 506.92l3.7 3.7M553.65 510.62l3.7 -3.7M558.15 507.31l3.7 3.7M558.15 511.01l3.7 -3.7M562.65 507.08l3.7 3.7M562.65 510.78l3.7 -3.7M567.15 507.33l3.7 3.7M567.15 511.03l3.7 -3.7M571.65 507.37l3.7 3.7M571.65 511.07l3.7 -3.7M576.15 507.85l3.7 3.7M576.15 511.55l3.7 -3.7M580.65 507.75l3.7 3.7M580.65 511.45l3.7 -3.7M585.15 508.03l3.7 3.7M585.15 511.73l3.7 -3.7M589.65 507.93l3.7 3.7M589.65 511.63l3.7 -3.7M594.15 508.05l3.7 3.7M594.15 511.75l3.7 -3.7M598.65 507.80l3.7 3.7M598.65 511.50l3.7 -3.7M603.15 508.10l3.7 3.7M603.15 511.80l3.7 -3.7M607.65 508.04l3.7 3.7M607.65 511.74l3.7 -3.7M612.15 508.19l3.7 3.7M612.15 511.89l3.7 -3.7M616.65 508.27l3.7 3.7M616.65 511.97l3.7 -3.7M621.15 508.16l3.7 3.7M621.15 511.86l3.7 -3.7M625.65 508.00l3.7 3.7M625.65 511.70l3.7 -3.7M630.15 508.05l3.7 3.7M630.15 511.75l3.7 -3.7M634.65 508.09l3.7 3.7M634.65 511.79l3.7 -3.7M639.15 508.16l3.7 3.7M639.15 511.86l3.7 -3.7M643.65 508.05l3.7 3.7M643.65 511.75l3.7 -3.7M648.15 507.97l3.7 3.7M648.15 511.67l3.7 -3.7M652.65 507.80l3.7 3.7M652.65 511.50l3.7 -3.7M657.15 507.42l3.7 3.7M657.15 511.12l3.7 -3.7M661.65 507.33l3.7 3.7M661.65 511.03l3.7 -3.7M666.15 507.34l3.7 3.7M666.15 511.04l3.7 -3.7M670.65 507.10l3.7 3.7M670.65 510.80l3.7 -3.7M675.15 506.98l3.7 3.7M675.15 510.68l3.7 -3.7" fill="none" stroke="#000" stroke-width="1.0"/>
<rect x="491.70" y="313.00" width="178.00" height="26.30" fill="#fff" stroke="#555" stroke-width="1"/>
<path d="M494.40 320.10H512.80M494.40 332.40H512.80" stroke="#000" stroke-width="0.95"/>
<path d="M501.80 317.90h4.4v4.4h-4.4zM502.15 330.55l3.7 3.7M502.15 334.25l3.7 -3.7" fill="none" stroke="#000" stroke-width="0.85"/>
<text class="lg" x="514.90" y="323.55">KnEA with non-dominated sorting</text>
<text class="lg" x="514.90" y="335.80">KnEA without non-dominated sorting</text>
</svg>
</body></html>
